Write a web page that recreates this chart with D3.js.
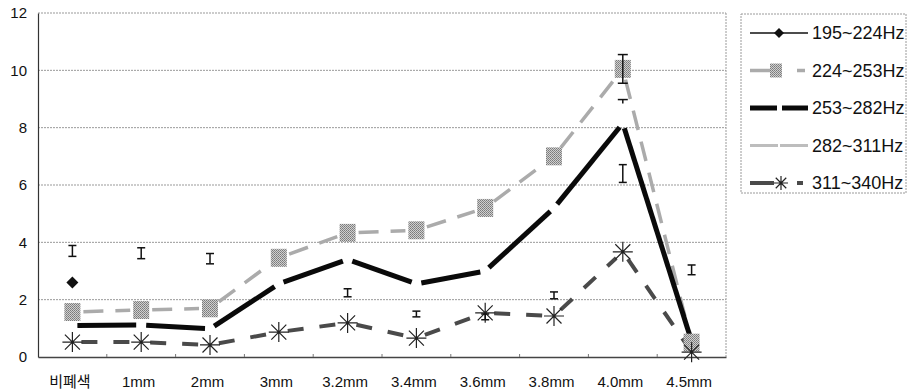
<!DOCTYPE html>
<html>
<head>
<meta charset="utf-8">
<script src="https://cdn.jsdelivr.net/npm/d3@7"></script>
<style>
body { margin: 0; background: #fff; }
text { font-family: "Liberation Sans", Arial, sans-serif; fill: #111; }
.kr { font-family: "Noto Sans CJK KR", "Liberation Sans", sans-serif; }
</style>
</head>
<body>
<div id="chart"></div>
<script>
// categories (x) and tick values
var categories = ["비폐색", "1mm", "2mm", "3mm", "3.2mm", "3.4mm", "3.6mm", "3.8mm", "4.0mm", "4.5mm"];
var yTicks = [0, 2, 4, 6, 8, 10, 12];
var seriesNames = ["195~224Hz", "224~253Hz", "253~282Hz", "282~311Hz", "311~340Hz"];

// series values (null = not visible)
var s195 = [2.6, null, null, null, null, null, null, null, null, null];
var s224 = [1.57, 1.64, 1.70, 3.46, 4.33, 4.42, 5.2, 7.0, 10.05, 0.5];
var s253 = [1.1, 1.12, 0.98, 2.55, 3.4, 2.55, 3.0, 5.2, 8.15, 0.55];
var s282 = [3.7, 3.62, 3.43, null, 2.24, 1.5, 1.4, 2.15, 6.4, 3.04];
var s282Err = [0.19, 0.19, 0.18, null, 0.14, 0.1, 0.1, 0.12, 0.31, 0.17];
var s311 = [0.52, 0.52, 0.42, 0.87, 1.19, 0.66, 1.54, 1.43, 3.67, 0.17];
// error bars on the other series
var err224 = [null, null, null, null, null, null, null, null, 0.5, null];
var err253 = [null, null, null, null, null, null, null, null, 0.83, null];

var w = 909, h = 390;
var padL = 38, padR = 726, padT = 13, padB = 357;

var svg = d3.select("#chart").append("svg")
   .attr("width", w)
   .attr("height", h);

// halftone-ish fill for the square markers
var defs = svg.append("defs");
var pat = defs.append("pattern")
   .attr("id", "dots")
   .attr("width", 2).attr("height", 2)
   .attr("patternUnits", "userSpaceOnUse");
pat.append("rect").attr("width", 2).attr("height", 2).attr("fill", "#cfcfcf");
pat.append("rect").attr("width", 1).attr("height", 1).attr("fill", "#7a7a7a");
pat.append("rect").attr("x", 1).attr("y", 1).attr("width", 1).attr("height", 1).attr("fill", "#8a8a8a");

var x = d3.scalePoint()
   .domain(categories)
   .range([padL, padR])
   .padding(0.5);

var y = d3.scaleLinear()
   .domain([0, 12])
   .range([padB, padT]);

//gridlines
svg.selectAll(".grid")
   .data(yTicks.filter(function(d) { return d > 0; }))
   .enter()
   .append("line")
   .attr("x1", padL).attr("x2", padR)
   .attr("y1", function(d) { return y(d); })
   .attr("y2", function(d) { return y(d); })
   .attr("stroke", "#999")
   .attr("stroke-width", 1)
   .attr("stroke-dasharray", "2,1");

// right border
svg.append("line")
   .attr("x1", padR).attr("x2", padR)
   .attr("y1", padT).attr("y2", padB)
   .attr("stroke", "#9a9a9a")
   .attr("stroke-dasharray", "2,1");

//Y axis
var yAxis = d3.axisLeft(y).tickValues(yTicks).tickSize(0).tickPadding(11);
var gy = svg.append("g")
   .attr("transform", "translate(" + padL + ",0)")
   .call(yAxis);
gy.select(".domain").attr("stroke", "#333").attr("stroke-width", 1.2);
gy.selectAll("text").style("font-size", "15px").attr("fill", "#111");

//X axis
var step = x.step();
var xAxis = d3.axisBottom(x).tickSize(0).tickPadding(19);
var gx = svg.append("g")
   .attr("transform", "translate(0," + padB + ")")
   .call(xAxis);
gx.select(".domain").attr("stroke", "#444").attr("stroke-width", 1.3);
gx.selectAll("text")
   .style("font-size", "15px")
   .attr("dx", -3)
   .attr("fill", "#111")
   .attr("class", function(d, i) { return i === 0 ? "kr" : null; });

// small ticks at category boundaries
svg.selectAll(".btick")
   .data(categories.slice(1))
   .enter()
   .append("line")
   .attr("x1", function(d) { return x(d) - step / 2; })
   .attr("x2", function(d) { return x(d) - step / 2; })
   .attr("y1", padB).attr("y2", padB - 3)
   .attr("stroke", "#777");

// draw a series as separate segments with gaps at the points
function segments(values, gap, style) {
   for (var i = 0; i < values.length - 1; i++) {
      if (values[i] == null || values[i + 1] == null) continue;
      var x1 = x(categories[i]), y1 = y(values[i]);
      var x2 = x(categories[i + 1]), y2 = y(values[i + 1]);
      var len = Math.sqrt((x2 - x1) * (x2 - x1) + (y2 - y1) * (y2 - y1));
      var ux = (x2 - x1) / len, uy = (y2 - y1) / len;
      var ln = svg.append("line")
         .attr("x1", x1 + ux * gap).attr("y1", y1 + uy * gap)
         .attr("x2", x2 - ux * gap).attr("y2", y2 - uy * gap);
      for (var k in style) ln.attr(k, style[k]);
   }
}

function errorBar(cx, cy1, cy2, cap) {
   var g = svg.append("g").attr("stroke", "#111").attr("stroke-width", 1.5);
   g.append("line").attr("x1", cx).attr("x2", cx).attr("y1", cy1).attr("y2", cy2);
   g.append("line").attr("x1", cx - cap).attr("x2", cx + cap).attr("y1", cy1).attr("y2", cy1);
   g.append("line").attr("x1", cx - cap).attr("x2", cx + cap).attr("y1", cy2).attr("y2", cy2);
}

function asterisk(cx, cy, r) {
   var d = "M" + cx + "," + (cy - r) + "L" + cx + "," + (cy + r)
      + "M" + (cx - r * 0.75) + "," + (cy - r * 0.75) + "L" + (cx + r * 0.75) + "," + (cy + r * 0.75)
      + "M" + (cx - r * 0.75) + "," + (cy + r * 0.75) + "L" + (cx + r * 0.75) + "," + (cy - r * 0.75)
      + "M" + (cx - r) + "," + cy + "L" + (cx + r) + "," + cy;
   svg.append("path").attr("d", d).attr("stroke", "#222").attr("stroke-width", 1.2).attr("fill", "none");
}

function diamond(cx, cy, r) {
   svg.append("path")
      .attr("d", "M" + cx + "," + (cy - r) + "L" + (cx + r) + "," + cy + "L" + cx + "," + (cy + r) + "L" + (cx - r) + "," + cy + "Z")
      .attr("fill", "#111");
}

// 311~340Hz : dark dashed with asterisks
segments(s311, 9, { stroke: "#4a4a4a", "stroke-width": 4, "stroke-dasharray": "16,16" });

// 224~253Hz : light gray dashed with squares
segments(s224, 11, { stroke: "#ababab", "stroke-width": 3.5, "stroke-dasharray": "20,12" });

// 253~282Hz : thick black
segments(s253, 5, { stroke: "#0a0a0a", "stroke-width": 5 });

// squares
svg.selectAll(".sq")
   .data(s224)
   .enter()
   .append("rect")
   .attr("x", function(d, i) { return x(categories[i]) - 8; })
   .attr("y", function(d) { return y(d) - 9; })
   .attr("width", 16).attr("height", 18)
   .attr("fill", "url(#dots)");

// asterisks
s311.forEach(function(d, i) { asterisk(x(categories[i]), y(d), 10); });

// diamond(s)
s195.forEach(function(d, i) { if (d != null) diamond(x(categories[i]), y(d), 6); });

// error bar marks
s282.forEach(function(d, i) {
   if (d == null) return;
   errorBar(x(categories[i]), y(d + s282Err[i]), y(d - s282Err[i]), 4);
});
err224.forEach(function(e, i) {
   if (e == null) return;
   errorBar(x(categories[i]), y(s224[i] + e), y(s224[i] - e), 5);
});
err253.forEach(function(e, i) {
   if (e == null) return;
   var cx = x(categories[i]);
   svg.append("line").attr("x1", cx - 5).attr("x2", cx + 5)
      .attr("y1", y(s253[i] + e)).attr("y2", y(s253[i] + e))
      .attr("stroke", "#111").attr("stroke-width", 1.5);
   svg.append("line").attr("x1", cx).attr("x2", cx)
      .attr("y1", y(s253[i] + e)).attr("y2", y(s253[i] + e) + 4)
      .attr("stroke", "#111").attr("stroke-width", 1.5);
});

//Legend
var lgX = 741, lgY = 14, lgW = 165, lgH = 179;
svg.append("rect")
   .attr("x", lgX).attr("y", lgY).attr("width", lgW).attr("height", lgH)
   .attr("fill", "none").attr("stroke", "#9a9a9a").attr("stroke-dasharray", "2,1");

var legY = d3.scalePoint().domain(seriesNames).range([33, 183]);

seriesNames.forEach(function(name, i) {
   var cy = legY(name);
   var g = svg.append("g");
   if (i === 0) {
      g.append("line").attr("x1", 750).attr("x2", 808).attr("y1", cy).attr("y2", cy)
         .attr("stroke", "#111").attr("stroke-width", 1.5);
      diamond(779, cy, 5);
   } else if (i === 1) {
      g.append("line").attr("x1", 750).attr("x2", 770).attr("y1", cy).attr("y2", cy)
         .attr("stroke", "#ababab").attr("stroke-width", 3.5);
      g.append("line").attr("x1", 797).attr("x2", 805).attr("y1", cy).attr("y2", cy)
         .attr("stroke", "#ababab").attr("stroke-width", 3.5);
      g.append("rect").attr("x", 770).attr("y", cy - 7).attr("width", 12).attr("height", 14)
         .attr("fill", "url(#dots)");
   } else if (i === 2) {
      g.append("line").attr("x1", 750).attr("x2", 777).attr("y1", cy).attr("y2", cy)
         .attr("stroke", "#0a0a0a").attr("stroke-width", 5);
      g.append("line").attr("x1", 782).attr("x2", 808).attr("y1", cy).attr("y2", cy)
         .attr("stroke", "#0a0a0a").attr("stroke-width", 5);
   } else if (i === 3) {
      g.append("line").attr("x1", 750).attr("x2", 808).attr("y1", cy).attr("y2", cy)
         .attr("stroke", "#bdbdbd").attr("stroke-width", 3).attr("stroke-dasharray", "28,2");
   } else {
      g.append("line").attr("x1", 750).attr("x2", 774).attr("y1", cy).attr("y2", cy)
         .attr("stroke", "#4a4a4a").attr("stroke-width", 4);
      g.append("line").attr("x1", 797).attr("x2", 803).attr("y1", cy).attr("y2", cy)
         .attr("stroke", "#4a4a4a").attr("stroke-width", 4);
      asterisk(781, cy, 7);
   }
   svg.append("text")
      .attr("x", 812).attr("y", cy + 6)
      .style("font-size", "18px")
      .text(name);
});
</script>
</body>
</html>
